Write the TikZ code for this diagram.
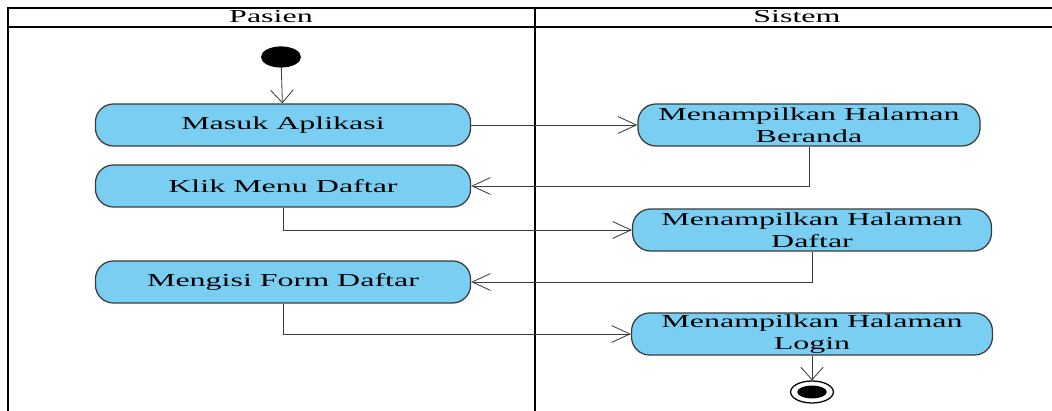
\documentclass[tikz,border=0pt]{standalone}
\usepackage{fontspec}
\setmainfont{Liberation Serif}[FakeStretch=1.75]
\usetikzlibrary{arrows.meta,shapes.geometric}
\definecolor{actfill}{RGB}{122,206,242}
\definecolor{lineclr}{RGB}{60,60,60}

\tikzset{
  act/.style={draw=lineclr, line width=0.9pt, fill=actfill, rounded corners=0.45cm,
    minimum width=9.375cm, minimum height=1.05cm, align=center, inner sep=0pt,
    font=\fontsize{13}{15.6}\selectfont},
  flowh/.style={draw=lineclr, line width=0.6pt, -{Straight Barb[length=13pt,width=12pt,line width=0.6pt]}},
  flowv/.style={draw=lineclr, line width=0.6pt, -{Straight Barb[length=9pt,width=16pt,line width=0.6pt]}},
  lane/.style={line width=1.8pt},
  lanehd/.style={font=\fontsize{13}{15.6}\selectfont, inner sep=0pt},
}

\begin{document}
\begin{tikzpicture}[x=0.025cm, y=-0.025cm]
    \useasboundingbox (0,0) rectangle (1052,411);

    %%%%% swimlanes %%%%%
    \draw[lane] (8,411) -- (8,8) -- (1052,8);
    \draw[lane] (8,27) -- (1052,27);
    \draw[lane] (535,8) -- (535,411);
    \node[lanehd] (pasienhd) at (271,17) {Pasien};
    \node[lanehd] (sistemhd) at (797,17) {Sistem};

    %%%%% activities %%%%%
    \node[ellipse, fill=black, minimum width=1cm, minimum height=0.53cm, inner sep=0pt] (start) at (281,57) {};

    \node[act] (masuk) at (283,125) {Masuk Aplikasi};
    \node[act] (klik) at (283,186) {Klik Menu Daftar};
    \node[act] (isi) at (283,282) {Mengisi Form Daftar};

    \node[act, minimum width=8.55cm] (beranda) at (809,125) {Menampilkan Halaman\\Beranda};
    \node[act, minimum width=8.97cm] (daftar) at (812,230) {Menampilkan Halaman\\Daftar};
    \node[act, minimum width=9.02cm] (login) at (812,334) {Menampilkan Halaman\\Login};

    \node[ellipse, draw=black, line width=0.9pt, fill=white, minimum width=1.07cm, minimum height=0.55cm, inner sep=0pt] (final) at (812,392) {};
    \fill (final.center) ellipse [x radius=0.37cm, y radius=0.16cm];

    %%%%% flows %%%%%
    \draw[flowv] (start) -- (masuk);
    \draw[flowh] (masuk) -- (beranda);
    \draw[flowh] (beranda.south) |- (klik.east);
    \draw[flowh] (klik.south) |- (daftar.west);
    \draw[flowh] (daftar.south) |- (isi.east);
    \draw[flowh] (isi.south) |- (login.west);
    \draw[flowv] (login) -- (final);
\end{tikzpicture}
\end{document}
